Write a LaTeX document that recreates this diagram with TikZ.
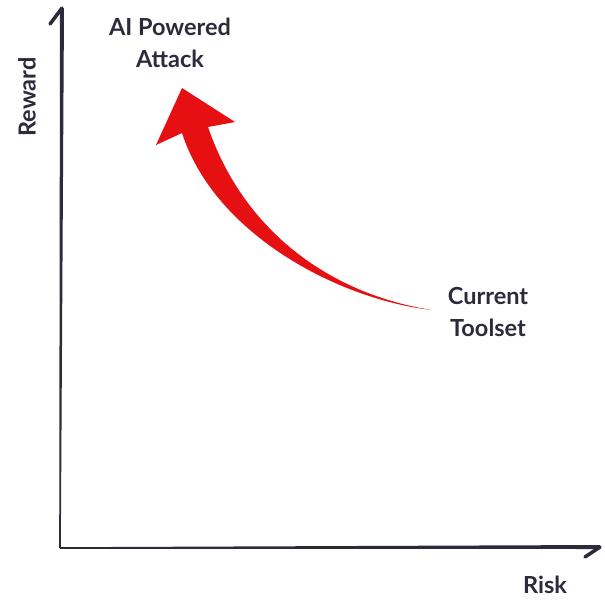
\documentclass[tikz,border=0pt]{standalone}
\usepackage{fontspec}
\setmainfont{Lato}
\definecolor{axisnavy}{HTML}{2B2B3C}
\definecolor{arrowred}{HTML}{E60F12}

\begin{document}
\begin{tikzpicture}[x=1pt,y=-1pt]
\tikzset{label/.style = {text=axisnavy,font=\bfseries\fontsize{23.5}{32}\selectfont,align=center,inner sep=0pt}}
\tikzset{axis/.style = {fill=axisnavy}}
\tikzset{barb/.style = {draw=axisnavy,line width=3.5pt,line cap=round}}
\useasboundingbox (0,0) rectangle (605,600);
% axes
\coordinate (o) at (60,548);
\coordinate (ytip) at (62,8);
\coordinate (xtip) at (600,547);
\fill[axis] ([xshift=-0.8]o) -- ([xshift=0.8]o) -- ([xshift=2]ytip) -- ([xshift=-2]ytip) -- cycle;
\fill[axis] ([yshift=0.8]o) -- ([yshift=-0.8]o) -- ([yshift=-2]xtip) -- ([yshift=2]xtip) -- cycle;
\draw[barb] (ytip) -- ++(-12,16);
\draw[barb] (xtip) -- ++(-15,10);
% labels
\node[label,rotate=90] (reward) at (27,97) {Reward};
\node[label] (risk) at (545,585) {Risk};
\node[label] (ai) at (170,43) {AI Powered\\Attack};
\node[label] (tool) at (488,312) {Current\\Toolset};
% red arrow
\coordinate (tail) at (432,310);
\coordinate (tip) at (182,88);
\fill[arrowred] (tail) .. controls (340,300) and (215,235) .. (182,133) -- (156,145) -- (tip) -- (235,122) -- (208,127) .. controls (245,235) and (335,295) .. (tail) -- cycle;
\end{tikzpicture}
\end{document}
